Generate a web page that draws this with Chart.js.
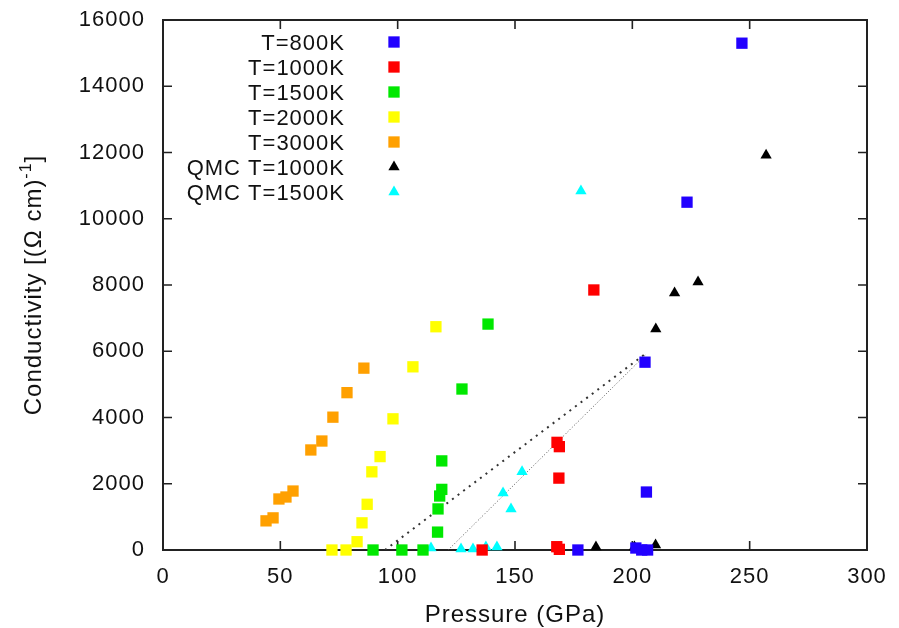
<!DOCTYPE html>
<html>
<head>
<meta charset="utf-8">
<title>Conductivity vs pressure</title>
<script src="https://cdn.jsdelivr.net/npm/chart.js"></script>
<style>
    html, body { margin: 0; padding: 0; background: #fff; }
    #wrap { width: 899px; height: 628px; position: relative; }
</style>
</head>
<body>
<div id="wrap"><canvas id="condChart"></canvas></div>
<script>
// values: pressure in GPa, conductivity in (Ohm cm)^-1
var t800P = [246.7, 223.3, 205.4, 206.0, 176.8, 201.5, 204.0, 206.5];
var t800C = [15300, 10500, 5670, 1750, 0, 60, 0, 0];

var t1000P = [183.6, 167.9, 168.9, 168.7, 167.8, 168.9, 136.0];
var t1000C = [7850, 3250, 3120, 2170, 100, 20, 0];

var t1500P = [138.5, 127.4, 118.8, 118.8, 117.9, 117.2, 117.0, 89.5, 101.8, 110.8];
var t1500C = [6820, 4860, 2690, 1830, 1630, 1240, 540, 0, 0, 0];

var t2000P = [116.3, 106.5, 98.0, 92.5, 89.0, 87.0, 84.8, 82.7, 72.0, 78.0];
var t2000C = [6740, 5530, 3960, 2820, 2360, 1380, 820, 250, 0, 0];

var t3000P = [85.6, 78.4, 72.4, 67.7, 63.0, 55.4, 52.4, 49.4, 46.9, 43.9];
var t3000C = [5490, 4750, 4010, 3290, 3020, 1780, 1600, 1540, 970, 880];

var qmc1000P = [257.0, 228.0, 218.0, 210.0, 168.7, 184.5, 200.9, 209.9];
var qmc1000C = [11920, 8090, 7760, 6670, 60, 90, 90, 150];

var qmc1500P = [178.1, 153.0, 144.9, 148.3, 114.2, 127.0, 132.1, 137.6, 142.3];
var qmc1500C = [10840, 2360, 1720, 1240, 60, 30, 30, 90, 90];

// the two dotted guide lines (no legend entry)
var guide1P = [94.6, 205.5];
var guide1C = [0, 5920];
var guide2P = [121.5, 205.5];
var guide2C = [0, 5880];

var xTickValues = [0, 50, 100, 150, 200, 250, 300];
var yTickValues = [0, 2000, 4000, 6000, 8000, 10000, 12000, 14000, 16000];

var fontFamily = '"Liberation Sans", Arial, Helvetica, sans-serif';

function toPoints(xs, ys) {
    var pts = [];
    for (var i = 0; i < xs.length; i++) {
        pts.push({x: xs[i], y: ys[i]});
    }
    return pts;
}

function markerSet(label, xs, ys, color, style) {
    return {
        label: label,
        data: toPoints(xs, ys),
        showLine: false,
        pointStyle: style,
        pointRadius: style === 'rect' ? 8 : 6.5,
        pointHoverRadius: style === 'rect' ? 8 : 6.5,
        backgroundColor: color,
        borderColor: color,
        borderWidth: 0,
        clip: false,
        inLegend: true
    };
}

function guideSet(xs, ys, width, dash, color) {
    return {
        label: '',
        data: toPoints(xs, ys),
        showLine: true,
        pointRadius: 0,
        borderColor: color,
        borderWidth: width,
        borderDash: dash,
        fill: false,
        inLegend: false
    };
}

var datasets = [
    markerSet('T=800K', t800P, t800C, '#2200ff', 'rect'),
    markerSet('T=1000K', t1000P, t1000C, '#ff0000', 'rect'),
    markerSet('T=1500K', t1500P, t1500C, '#00e800', 'rect'),
    markerSet('T=2000K', t2000P, t2000C, '#ffff00', 'rect'),
    markerSet('T=3000K', t3000P, t3000C, '#ffa000', 'rect'),
    markerSet('QMC T=1000K', qmc1000P, qmc1000C, '#000000', 'triangle'),
    markerSet('QMC T=1500K', qmc1500P, qmc1500C, '#00ffff', 'triangle'),
    guideSet(guide1P, guide1C, 2, [2, 5], '#333333'),
    guideSet(guide2P, guide2C, 1, [1, 2], '#555555')
];

// wider letter spacing to mimic the original's stretched Helvetica
var spacingPlugin = {
    id: 'spacing',
    beforeDraw: function(chart) {
        chart.ctx.letterSpacing = '1px';
    }
};

// gnuplot style box with inward ticks on all four sides
var framePlugin = {
    id: 'frame',
    beforeDatasetsDraw: function(chart) {
        var ctx = chart.ctx;
        var a = chart.chartArea;
        var xs = chart.scales.x;
        var ys = chart.scales.y;
        var tick = 9;
        ctx.save();
        ctx.strokeStyle = '#222';
        ctx.lineWidth = 1.6;
        ctx.beginPath();
        xTickValues.forEach(function(v) {
            var px = xs.getPixelForValue(v);
            ctx.moveTo(px, a.bottom);
            ctx.lineTo(px, a.bottom - tick);
            ctx.moveTo(px, a.top);
            ctx.lineTo(px, a.top + tick);
        });
        yTickValues.forEach(function(v) {
            var py = ys.getPixelForValue(v);
            ctx.moveTo(a.left, py);
            ctx.lineTo(a.left + tick, py);
            ctx.moveTo(a.right, py);
            ctx.lineTo(a.right - tick, py);
        });
        ctx.stroke();
        ctx.lineWidth = 2;
        ctx.strokeRect(a.left, a.top, a.right - a.left, a.bottom - a.top);
        ctx.restore();
    }
};

// legend: right aligned text with the marker on its right, like gnuplot
var legendPlugin = {
    id: 'sideLegend',
    afterDatasetsDraw: function(chart) {
        var ctx = chart.ctx;
        var a = chart.chartArea;
        var textRight = a.left + 182;
        var markX = a.left + 231;
        var row = 0;
        ctx.save();
        ctx.font = '22px ' + fontFamily;
        ctx.textAlign = 'right';
        ctx.textBaseline = 'alphabetic';
        chart.data.datasets.forEach(function(ds) {
            if (!ds.inLegend) {
                return;
            }
            var y = a.top + 22 + row * 25;
            ctx.fillStyle = '#111';
            ctx.fillText(ds.label, textRight, y + 8);
            ctx.fillStyle = ds.backgroundColor;
            Chart.helpers.drawPoint(ctx, {
                pointStyle: ds.pointStyle,
                radius: ds.pointRadius,
                borderWidth: 0,
                rotation: 0
            }, markX, y);
            row++;
        });
        ctx.restore();
    }
};

// axis titles, the y one needs a superscript
var titlePlugin = {
    id: 'axisTitles',
    afterDraw: function(chart) {
        var ctx = chart.ctx;
        var a = chart.chartArea;
        ctx.save();
        ctx.fillStyle = '#111';
        ctx.font = '24px ' + fontFamily;
        ctx.textAlign = 'center';
        ctx.textBaseline = 'alphabetic';
        ctx.fillText('Pressure (GPa)', (a.left + a.right) / 2, 622);

        var main = 'Conductivity [(\u03A9 cm)';
        var sup = '-1';
        var close = ']';
        var supFont = '16px ' + fontFamily;
        ctx.font = '24px ' + fontFamily;
        var w1 = ctx.measureText(main).width;
        var w3 = ctx.measureText(close).width;
        ctx.font = supFont;
        var w2 = ctx.measureText(sup).width;
        var total = w1 + w2 + w3;
        ctx.translate(41, (a.top + a.bottom) / 2);
        ctx.rotate(-Math.PI / 2);
        ctx.textAlign = 'left';
        var x0 = -total / 2;
        ctx.font = '24px ' + fontFamily;
        ctx.fillText(main, x0, 0);
        ctx.font = supFont;
        ctx.fillText(sup, x0 + w1, -10);
        ctx.font = '24px ' + fontFamily;
        ctx.fillText(close, x0 + w1 + w2, 0);
        ctx.restore();
    }
};

function plainLabel(value) {
    return String(value);
}

var ctx = document.getElementById('condChart');
var condChart = new Chart(ctx, {
    type: 'scatter',
    data: { datasets: datasets },
    options: {
        responsive: true,
        maintainAspectRatio: false,
        animation: false,
        events: [],
        layout: {
            autoPadding: false,
            padding: { top: 20, right: 32, left: 0, bottom: 0 }
        },
        plugins: {
            legend: { display: false },
            tooltip: { enabled: false }
        },
        scales: {
            x: {
                type: 'linear',
                min: 0,
                max: 300,
                // grid hidden, tickLength only used as the label gap
                grid: { display: false, drawTicks: true, tickLength: 14 },
                border: { display: false },
                afterBuildTicks: function(scale) {
                    scale.ticks = xTickValues.map(function(v) { return {value: v}; });
                },
                afterFit: function(scale) {
                    scale.height = 78;
                },
                ticks: {
                    padding: 0,
                    color: '#111',
                    maxRotation: 0,
                    autoSkip: false,
                    callback: plainLabel,
                    font: { family: fontFamily, size: 22 }
                }
            },
            y: {
                type: 'linear',
                min: 0,
                max: 16000,
                grid: { display: false, drawTicks: true, tickLength: 18 },
                border: { display: false },
                afterBuildTicks: function(scale) {
                    scale.ticks = yTickValues.map(function(v) { return {value: v}; });
                },
                afterFit: function(scale) {
                    scale.width = 163;
                },
                ticks: {
                    padding: 0,
                    color: '#111',
                    autoSkip: false,
                    callback: plainLabel,
                    font: { family: fontFamily, size: 22 }
                }
            }
        }
    },
    plugins: [spacingPlugin, framePlugin, legendPlugin, titlePlugin]
});
</script>
</body>
</html>
